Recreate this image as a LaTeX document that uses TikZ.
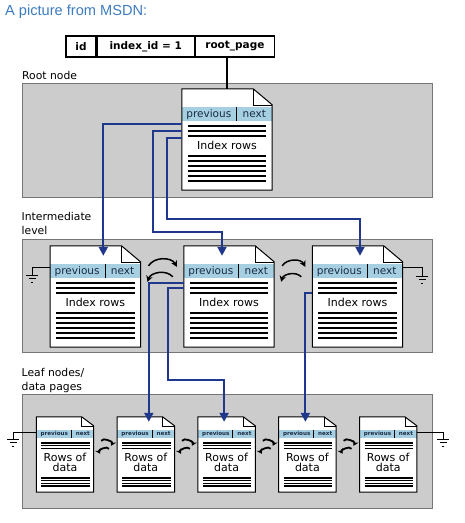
\documentclass[tikz,border=0pt]{standalone}
\usepackage{fontspec}
\setmainfont{DejaVu Sans}
\newfontfamily\titlefont{Liberation Sans}
\usepackage{tikz}
\usetikzlibrary{arrows.meta, positioning}
\usepackage{xcolor}

\definecolor{panelgray}{RGB}{204,204,204}
\definecolor{paneledge}{RGB}{118,118,118}
\definecolor{hdrblue}{RGB}{166,208,226}
\definecolor{hdrink}{RGB}{25,42,70}
\definecolor{linkblue}{RGB}{31,56,140}
\definecolor{titleblue}{RGB}{62,124,192}

\tikzset{
  panel/.style={fill=panelgray,draw=paneledge,line width=1pt},
  page/.style={shape=rectangle,inner sep=0pt,minimum width=90pt,minimum height=101pt},
  leafpage/.style={page,minimum width=57pt,minimum height=75pt},
  hdrtext/.style={inner sep=0pt,anchor=base,text=hdrink,font=\fontsize{10.5}{12}\selectfont},
  leafhdr/.style={inner sep=0pt,anchor=base,text=hdrink,font=\fontsize{5.6}{6}\selectfont\bfseries},
  rowtext/.style={inner sep=0pt,font=\fontsize{11}{12}\selectfont},
  datatext/.style={inner sep=0pt,align=center,font=\fontsize{11}{10}\selectfont},
  rowline/.style={line width=2.2pt},
  leafrow/.style={line width=1.7pt},
  cell/.style={draw,line width=1.2pt,inner sep=0pt,minimum height=21pt,font=\fontsize{10.5}{12}\selectfont\bfseries},
  lbl/.style={inner sep=0pt,align=left,font=\fontsize{10.8}{14}\selectfont},
  link/.style={draw=linkblue,line width=2pt,-{Triangle[length=9pt,width=9pt]}},
  swap/.style={line width=1.5pt,-{Stealth[length=6pt,width=6.5pt]}},
  leafswap/.style={line width=1.8pt,-{Stealth[length=5pt,width=6pt]}},
  wire/.style={line width=0.8pt},
  earth/.pic={\draw[line width=0.8pt] (-6,0) -- (6,0) (-3.5,3.5) -- (3.5,3.5) (-1.2,7) -- (1.2,7);}
}

% page with folded corner and header band: name, fold, header top, header bottom
\newcommand{\pageoutline}[4]{%
  \fill[white] (#1.north west) -- ([xshift=-#2]#1.north east) -- ([yshift=-#2+3pt]#1.north east)
    -- (#1.south east) -- (#1.south west) -- cycle;
  \fill[hdrblue] ([yshift=-#3]#1.north west) rectangle ([yshift=-#4]#1.north east);
  \draw[line width=1pt] (#1.north west) -- ([xshift=-#2]#1.north east) -- ([yshift=-#2+3pt]#1.north east)
    -- (#1.south east) -- (#1.south west) -- cycle;
  \draw[line width=0.6pt] ([xshift=-#2]#1.north east) |- ([yshift=-#2+3pt]#1.north east);
}

\newcommand{\indexpage}[2]{%
  \node[page] (#1) at (#2) {};
  \pageoutline{#1}{19pt}{18pt}{32pt}
  \draw[line width=1pt] ([xshift=55pt,yshift=-18pt]#1.north west) -- ([xshift=55pt,yshift=-32pt]#1.north west);
  \node[hdrtext] at ([xshift=27pt,yshift=-29pt]#1.north west) {previous};
  \node[hdrtext] at ([xshift=72.5pt,yshift=-29pt]#1.north west) {next};
  \foreach \d in {37,42,47,67,72,77,82,87,92}
    \draw[rowline] ([xshift=6pt,yshift=-\d pt]#1.north west) -- ([xshift=-6pt,yshift=-\d pt]#1.north east);
  \node[rowtext] at ([yshift=-57pt]#1.north) {Index rows};
}

\newcommand{\datapage}[2]{%
  \node[leafpage] (#1) at (#2) {};
  \pageoutline{#1}{12pt}{13pt}{21pt}
  \draw[line width=1pt] ([xshift=35pt,yshift=-13pt]#1.north west) -- ([xshift=35pt,yshift=-21pt]#1.north west);
  \node[leafhdr] at ([xshift=18pt,yshift=-19pt]#1.north west) {previous};
  \node[leafhdr] at ([xshift=46.5pt,yshift=-19pt]#1.north west) {next};
  \foreach \d in {26,28.8,31.6,61,63.8,66.6,69.4}
    \draw[leafrow] ([xshift=5pt,yshift=-\d pt]#1.north west) -- ([xshift=-4pt,yshift=-\d pt]#1.north east);
  \node[datatext] at ([yshift=-46pt]#1.north) {Rows of\\data};
}

\begin{document}
\begin{tikzpicture}[x=1pt,y=-1pt]
  \useasboundingbox[fill=white] (0,0) rectangle (464,523);

  \node[inner sep=0pt,anchor=base west,text=titleblue,font=\titlefont\fontsize{14.6}{16}\selectfont] (title) at (5,15.5) {A picture from MSDN:};

  % sys.indexes row
  \node[cell,minimum width=30pt] (id) at (81,46.5) {id};
  \node[cell,minimum width=97pt,right=0pt of id] (idx) {index\_id = 1};
  \node[cell,minimum width=79pt,right=0pt of idx] (rp) {root\_page};

  % levels
  \node[lbl,anchor=base west] (rootlbl) at (22,79.5) {Root node};
  \draw[panel] (22,83) rectangle (432,197);
  \node[lbl,anchor=north west] (midlbl) at (21.5,212.5) {Intermediate\\level};
  \draw[panel] (22,239) rectangle (432,352);
  \node[lbl,anchor=north west] (leaflbl) at (21.5,368.5) {Leaf nodes/\\data pages};
  \draw[panel] (22,394) rectangle (432,508);

  % pages
  \indexpage{R}{227,139.5}
  \indexpage{I1}{95.3,296.5}
  \indexpage{I2}{229,296.5}
  \indexpage{I3}{357.5,296.5}
  \foreach \k in {1,...,5}{
    \datapage{L\k}{65+80.8*\k-80.8,454.5}
  }

  \draw[line width=2pt] (R.north |- rp.south) -- (R.north);

  % prev / next links
  \foreach \a/\b in {I1/I2,I2/I3}{
    \draw[swap] ([xshift=8pt,yshift=-20pt]\a.north east) to[bend left=60] ([xshift=-7pt,yshift=-21pt]\b.north west);
    \draw[swap] ([xshift=-11pt,yshift=-31pt]\b.north west) to[bend right=60] ([xshift=7pt,yshift=-36pt]\a.north east);
  }
  \foreach \a/\b in {L1/L2,L2/L3,L3/L4,L4/L5}{
    \draw[leafswap] ([xshift=7.5pt,yshift=-24pt]\a.north east) to[bend left=90] ([xshift=-6pt,yshift=-29pt]\b.north west);
    \draw[leafswap] ([xshift=-8pt,yshift=-32pt]\b.north west) to[bend right=90] ([xshift=6.5pt,yshift=-37pt]\a.north east);
  }

  % grounded ends
  \coordinate (g1) at (32,275);
  \coordinate (g2) at (422,276);
  \coordinate (g3) at (13,439);
  \coordinate (g4) at (443,439);
  \draw[wire] ([yshift=-22pt]I1.north west) -| (g1);
  \draw[wire] ([yshift=-22pt]I3.north east) -| (g2);
  \draw[wire] ([yshift=-16pt]L1.north west) -| (g3);
  \draw[wire] ([yshift=-16pt]L5.north east) -| (g4);
  \foreach \g in {g1,g2,g3,g4}
    \pic at (\g) {earth};

  % child pointers
  \path[link]
    ([yshift=-35pt]R.north west) -| ([xshift=8pt,yshift=-10pt]I1.north);
  \path[link]
    ([yshift=-42pt]R.north west) -| (153,232) -| ([xshift=-7pt,yshift=-10pt]I2.north);
  \path[link]
    ([yshift=-49pt]R.north west) -| (167,219) -| ([xshift=2.5pt,yshift=-10pt]I3.north);
  \path[link]
    ([yshift=-37pt]I2.north west) -| ([xshift=3pt,yshift=-5pt]L2.north);
  \path[link]
    ([yshift=-42pt]I2.north west) -| (168,380) -| ([xshift=-2.5pt,yshift=-5pt]L3.north);
  \path[link]
    ([yshift=-47pt]I3.north west) -| ([xshift=-2pt,yshift=-5pt]L4.north);
\end{tikzpicture}
\end{document}
